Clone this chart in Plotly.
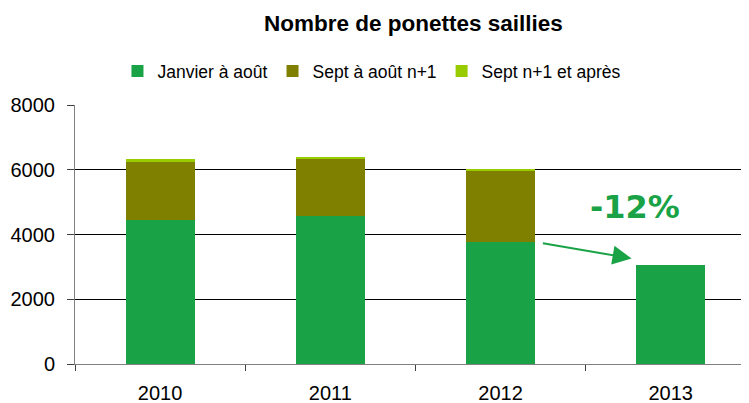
import plotly.graph_objects as go

years = ["2010", "2011", "2012", "2013"]
janvier_aout = [4450, 4570, 3780, 3060]
sept_aout_n1 = [1790, 1760, 2210, 0]
sept_n1_apres = [90, 65, 10, 0]

series_names = ["Janvier à août", "Sept à août n+1", "Sept n+1 et après"]
colors = ["#19A246", "#808000", "#99CC00"]

fig = go.Figure()
for name, vals, col in zip(series_names, [janvier_aout, sept_aout_n1, sept_n1_apres], colors):
    fig.add_trace(go.Bar(x=years, y=vals, name=name, marker_color=col,
                         marker_line_width=0, width=0.405))

# page body has an 8px margin, so the figure is sized to fill the rest of the window
fig.update_layout(
    barmode="stack",
    width=741, height=395,
    margin=dict(l=67, r=0, t=97, b=39),
    plot_bgcolor="white", paper_bgcolor="white",
    font=dict(family="Liberation Sans, Arial, sans-serif", size=20, color="black"),
    title=dict(text="<b>Nombre de ponettes saillies</b>", x=0.547, xanchor="center",
               y=0.962, yanchor="middle", font=dict(size=22.5)),
    legend=dict(orientation="h", x=0.063, xanchor="left", y=1.131, yanchor="middle",
                font=dict(size=17.5), traceorder="normal", itemwidth=30),
    showlegend=True,
)
fig.update_xaxes(type="category", range=[-0.5, 3.46], showline=True, linecolor="#808080",
                 linewidth=1, ticks="outside", tickson="boundaries", ticklen=6,
                 tickcolor="#404040", showgrid=False, tickfont=dict(size=20),
                 ticklabelstandoff=11)
fig.update_yaxes(range=[0, 8000], dtick=2000, showgrid=True, gridcolor="black", gridwidth=1,
                 showline=True, linecolor="#808080", linewidth=1, ticks="outside",
                 ticklen=7, tickcolor="#404040", tickfont=dict(size=20), zeroline=False,
                 ticklabelstandoff=8)

fig.add_annotation(text="<b>-12%</b>", x=2.79, y=4850, xref="x", yref="y", showarrow=False,
                   font=dict(size=32, color="#19A246", family="DejaVu Sans, Verdana, sans-serif"))
fig.add_annotation(x=2.77, y=3260, ax=2.24, ay=3740, xref="x", yref="y", axref="x", ayref="y",
                   text="", showarrow=True, arrowhead=2, arrowsize=1.9, arrowwidth=2,
                   arrowcolor="#19A246")

fig.write_html("out.html")
